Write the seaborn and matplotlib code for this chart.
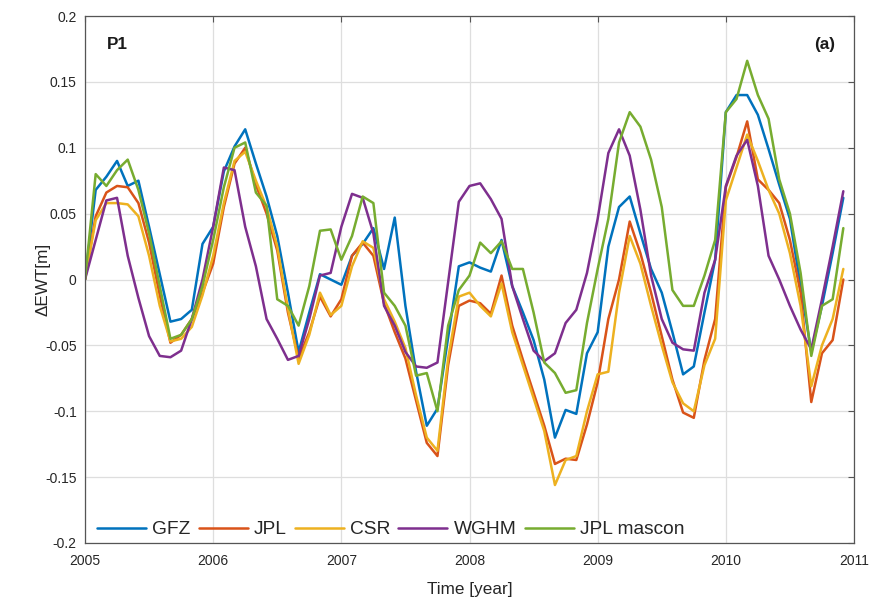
import numpy as np
import pandas as pd
import matplotlib
matplotlib.use("Agg")
import matplotlib.pyplot as plt
from matplotlib import font_manager
import seaborn as sns

# Monthly equivalent water thickness anomalies [m], Jan 2005 - Dec 2010
gfz = [0.0, 0.068, 0.078, 0.090, 0.071, 0.075, 0.040, 0.004, -0.032, -0.030, -0.023, 0.027,
       0.040, 0.082, 0.101, 0.114, 0.088, 0.063, 0.033, -0.010, -0.055, -0.025, 0.004, 0.000,
       -0.004, 0.018, 0.027, 0.039, 0.008, 0.047, -0.020, -0.070, -0.111, -0.098, -0.044, 0.010,
       0.013, 0.009, 0.006, 0.030, -0.005, -0.025, -0.046, -0.076, -0.120, -0.099, -0.102, -0.056,
       -0.040, 0.025, 0.055, 0.063, 0.035, 0.008, -0.010, -0.040, -0.072, -0.066, -0.025, 0.015,
       0.127, 0.140, 0.140, 0.125, 0.099, 0.072, 0.046, -0.005, -0.055, -0.020, 0.020, 0.062]
jpl = [0.0, 0.048, 0.066, 0.071, 0.070, 0.058, 0.028, -0.012, -0.048, -0.042, -0.030, -0.010,
       0.012, 0.055, 0.088, 0.100, 0.072, 0.050, 0.022, -0.025, -0.060, -0.040, -0.013, -0.028,
       -0.015, 0.018, 0.028, 0.018, -0.018, -0.040, -0.060, -0.092, -0.124, -0.134, -0.065, -0.020,
       -0.016, -0.018, -0.026, 0.003, -0.035, -0.061, -0.086, -0.111, -0.140, -0.136, -0.137, -0.110,
       -0.078, -0.030, 0.000, 0.044, 0.020, -0.010, -0.043, -0.076, -0.101, -0.105, -0.061, -0.030,
       0.070, 0.093, 0.120, 0.076, 0.068, 0.058, 0.030, -0.010, -0.093, -0.056, -0.046, 0.000]
csr = [0.0, 0.045, 0.058, 0.058, 0.057, 0.048, 0.018, -0.020, -0.047, -0.045, -0.036, -0.012,
       0.018, 0.058, 0.090, 0.097, 0.075, 0.055, 0.025, -0.022, -0.064, -0.042, -0.010, -0.027,
       -0.020, 0.010, 0.029, 0.024, -0.015, -0.032, -0.052, -0.088, -0.120, -0.130, -0.060, -0.013,
       -0.010, -0.020, -0.028, -0.003, -0.040, -0.065, -0.090, -0.115, -0.156, -0.137, -0.134, -0.100,
       -0.072, -0.070, -0.010, 0.033, 0.012, -0.020, -0.050, -0.078, -0.094, -0.100, -0.065, -0.045,
       0.060, 0.085, 0.110, 0.090, 0.068, 0.050, 0.020, -0.020, -0.081, -0.050, -0.030, 0.008]
wghm = [0.0, 0.030, 0.060, 0.062, 0.018, -0.014, -0.043, -0.058, -0.059, -0.054, -0.030, 0.000,
        0.040, 0.085, 0.083, 0.040, 0.010, -0.030, -0.045, -0.061, -0.058, -0.030, 0.003, 0.005,
        0.040, 0.065, 0.062, 0.035, -0.020, -0.035, -0.055, -0.066, -0.067, -0.063, -0.002, 0.059,
        0.071, 0.073, 0.061, 0.046, -0.005, -0.030, -0.054, -0.062, -0.056, -0.033, -0.023, 0.005,
        0.046, 0.096, 0.114, 0.094, 0.053, 0.003, -0.030, -0.048, -0.053, -0.054, -0.010, 0.015,
        0.071, 0.094, 0.106, 0.071, 0.018, 0.000, -0.020, -0.038, -0.053, -0.015, 0.025, 0.067]
jpl_mascon = [0.0, 0.080, 0.071, 0.083, 0.091, 0.068, 0.035, -0.005, -0.045, -0.042, -0.030, -0.005,
              0.030, 0.070, 0.100, 0.104, 0.066, 0.056, -0.015, -0.020, -0.035, -0.005, 0.037, 0.038,
              0.015, 0.033, 0.063, 0.058, -0.010, -0.020, -0.035, -0.073, -0.071, -0.100, -0.035, -0.008,
              0.003, 0.028, 0.020, 0.029, 0.008, 0.008, -0.025, -0.063, -0.071, -0.086, -0.084, -0.033,
              0.008, 0.046, 0.104, 0.127, 0.116, 0.091, 0.055, -0.008, -0.020, -0.020, 0.003, 0.030,
              0.127, 0.137, 0.166, 0.140, 0.122, 0.076, 0.050, 0.005, -0.058, -0.020, -0.015, 0.039]

series_names = ["GFZ", "JPL", "CSR", "WGHM", "JPL mascon"]
series_values = [gfz, jpl, csr, wghm, jpl_mascon]
series_colors = ["#0072BD", "#D95319", "#EDB120", "#7E2F8E", "#77AC30"]

x_ticks = [2005, 2006, 2007, 2008, 2009, 2010, 2011]
y_ticks = [-0.2, -0.15, -0.1, -0.05, 0, 0.05, 0.1, 0.15, 0.2]

# Long-form table: one row per month and product
time = 2005 + np.arange(len(gfz)) / 12.0
df = pd.concat(
    [pd.DataFrame({"time": time, "ewt": vals, "product": name})
     for name, vals in zip(series_names, series_values)],
    ignore_index=True,
)

sns.set_style("white")

# Prefer a narrow sans face; otherwise shrink the regular one to similar widths
installed = {f.name for f in font_manager.fontManager.ttflist}
if "Liberation Sans Narrow" in installed:
    face, k = "Liberation Sans Narrow", 1.0
else:
    face, k = "Liberation Sans", 0.82
plt.rcParams["font.family"] = [face, "DejaVu Sans"]
plt.rcParams["axes.unicode_minus"] = False

fig = plt.figure(figsize=(8.72, 6.03), dpi=100)
ax = fig.add_axes([85 / 872, 1 - 543 / 603, (854 - 85) / 872, (543 - 16) / 603])

sns.lineplot(data=df, x="time", y="ewt", hue="product", hue_order=series_names,
             palette=series_colors, linewidth=1.8, ax=ax, legend="full")

ax.set_xlim(2005, 2011)
ax.set_ylim(-0.2, 0.2)
ax.set_xticks(x_ticks)
ax.set_xticklabels([str(v) for v in x_ticks])
ax.set_yticks(y_ticks)
ax.set_yticklabels(["%g" % v for v in y_ticks])
ax.grid(True, color="#dedede", linewidth=0.9)
ax.set_axisbelow(True)

for side in ["left", "right", "top", "bottom"]:
    ax.spines[side].set_visible(True)
    ax.spines[side].set_color("#555555")
    ax.spines[side].set_linewidth(0.9)
ax.tick_params(direction="in", length=4, width=0.8, color="#555555",
               top=True, right=True, labelsize=12.2 * k, labelcolor="#262626")
ax.tick_params(axis="x", pad=8)
ax.tick_params(axis="y", pad=6)

ax.set_xlabel("Time [year]", fontsize=15 * k, color="#262626")
ax.set_ylabel("\u0394EWT[m]", fontsize=15 * k, color="#262626")
ax.xaxis.set_label_coords(0.5, -0.074)
ax.yaxis.set_label_coords(-0.045, 0.5)

ax.text(0.028, 0.945, "P1", transform=ax.transAxes, fontsize=15 * k, fontweight="bold",
        ha="left", va="center", color="#1a1a1a")
ax.text(0.976, 0.945, "(a)", transform=ax.transAxes, fontsize=15 * k, fontweight="bold",
        ha="right", va="center", color="#1a1a1a")

leg_fs = 16.8 * k
sns.move_legend(ax, "lower left", bbox_to_anchor=(0.0, -0.014), ncol=5, frameon=False,
                title=None, fontsize=leg_fs, handlelength=2.1 / k, handletextpad=0.26 / k,
                columnspacing=0.35 / k, borderaxespad=0.2 / k, borderpad=0.32 / k)
for txt in ax.get_legend().get_texts():
    txt.set_color("#262626")

fig.savefig("out.png", dpi=100)
